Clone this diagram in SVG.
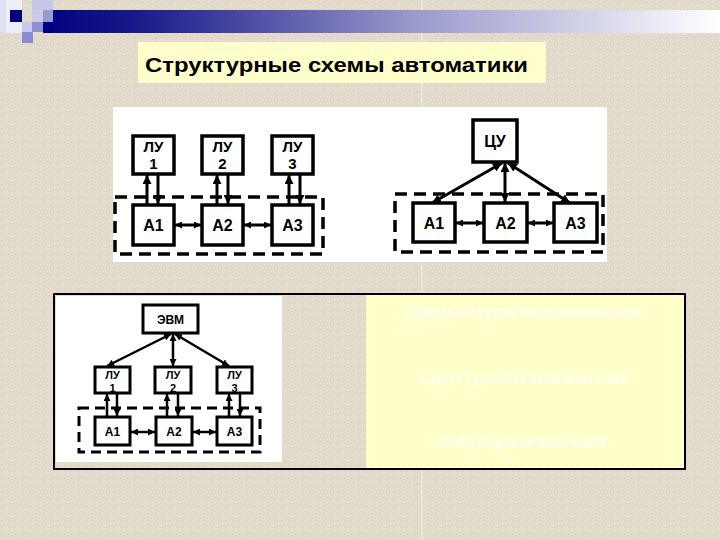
<svg xmlns="http://www.w3.org/2000/svg" width="720" height="540" viewBox="0 0 720 540">
<defs>
<linearGradient id="bar" x1="43" y1="0" x2="720" y2="0" gradientUnits="userSpaceOnUse">
<stop offset="0" stop-color="#000080"/>
<stop offset="0.15" stop-color="#1c1c8c"/>
<stop offset="0.55" stop-color="#9a9acc"/>
<stop offset="1" stop-color="#ffffff"/>
</linearGradient>
<pattern id="tex" width="7" height="7" patternUnits="userSpaceOnUse">
<rect width="7" height="7" fill="#e2dbcc"/>
<rect x="1" y="2" width="1" height="1" fill="#d4ccbc"/>
<rect x="5" y="5" width="1" height="1" fill="#ece6da"/>
<rect x="4" y="0" width="1" height="1" fill="#d8d0c0"/>
</pattern>
<marker id="ah" viewBox="0 0 10 10" refX="10" refY="5" markerWidth="9" markerHeight="9" markerUnits="userSpaceOnUse" orient="auto-start-reverse">
<path d="M0,0 L10,5 L0,10 z" fill="#000"/>
</marker>
<marker id="ahs" viewBox="0 0 10 10" refX="10" refY="5" markerWidth="7" markerHeight="7" markerUnits="userSpaceOnUse" orient="auto-start-reverse">
<path d="M0,0 L10,5 L0,10 z" fill="#000"/>
</marker>
</defs>
<style>
.box{fill:#fff;stroke:#000;stroke-width:3.5}
.boxs{fill:#fff;stroke:#000;stroke-width:3}
.dash{fill:none;stroke:#000;stroke-width:3.5;stroke-dasharray:12 7}
.dashs{fill:none;stroke:#000;stroke-width:3;stroke-dasharray:10 6}
.lbl{font-family:"Liberation Sans",Arial,sans-serif;font-weight:bold;font-size:16px;fill:#000;text-anchor:middle}
.lbl2{font-family:"Liberation Sans",Arial,sans-serif;font-weight:bold;font-size:15px;fill:#000;text-anchor:middle}
.lbls{font-family:"Liberation Sans",Arial,sans-serif;font-weight:bold;font-size:12px;fill:#000;text-anchor:middle}
.lbls2{font-family:"Liberation Sans",Arial,sans-serif;font-weight:bold;font-size:11px;fill:#000;text-anchor:middle}
.ar{stroke:#000;stroke-width:3;fill:none;marker-end:url(#ah)}
.ar2{stroke:#000;stroke-width:3;fill:none;marker-start:url(#ah);marker-end:url(#ah)}
.arh{stroke:#000;stroke-width:3;fill:none;marker-start:url(#ahs);marker-end:url(#ahs)}
.ars{stroke:#000;stroke-width:2.5;fill:none;marker-end:url(#ahs)}
.ars2{stroke:#000;stroke-width:2.5;fill:none;marker-start:url(#ahs);marker-end:url(#ahs)}
.yt{font-family:"Liberation Sans",Arial,sans-serif;font-size:19px;fill:#fffff2;text-anchor:middle}
</style>
<rect width="720" height="540" fill="url(#tex)"/>
<rect x="421" y="0" width="1.5" height="540" fill="#ede8dd"/>
<g id="header">
<rect x="0" y="0" width="22" height="33" fill="#eceef8"/>
<rect x="0" y="0" width="6" height="33" fill="#dde0f2"/>
<rect x="10" y="10" width="12" height="12" fill="#000080"/>
<rect x="32" y="0" width="21" height="10" fill="#c4c8e8"/>
<rect x="32" y="10" width="11" height="12" fill="#c8cce8"/>
<rect x="43" y="10" width="10" height="12" fill="#9a9ad0"/>
<rect x="22" y="22" width="10" height="10" fill="#c8c8f0"/>
<rect x="32" y="22" width="11" height="10" fill="#9090cc"/>
<rect x="22" y="32" width="11" height="11" fill="#8c8cd0"/>
<rect x="43" y="22" width="10" height="11" fill="#000080"/>
<rect x="53" y="10" width="667" height="23" fill="url(#bar)"/>
</g>
<g id="title">
<rect x="138" y="42" width="408" height="41" fill="#ffffcc"/>
<text x="145" y="72" font-family="Liberation Sans, Arial, sans-serif" font-weight="bold" font-size="20" fill="#000" textLength="383" lengthAdjust="spacingAndGlyphs">Структурные схемы автоматики</text>
</g>
<rect x="113" y="107" width="494" height="155" fill="#fff"/>
<g id="bottom-panel">
<rect x="54" y="294" width="631" height="175" fill="none" stroke="#000" stroke-width="2"/>
<rect x="56" y="296" width="226" height="166" fill="#fff"/>
<rect x="366" y="295" width="318" height="173" fill="#ffffcc"/>
<text class="yt" x="523" y="318" textLength="235" lengthAdjust="spacingAndGlyphs">Децентрализованная</text>
<text class="yt" x="523" y="384" textLength="208" lengthAdjust="spacingAndGlyphs">Централизованная</text>
<text class="yt" x="523" y="448" textLength="167" lengthAdjust="spacingAndGlyphs">Иерархическая</text>
</g>
<!-- Decentralized -->
<rect class="dash" x="115" y="197" width="208" height="57"/>
<g id="d-lu1"><rect class="box" x="133" y="136" width="41" height="38"/><text class="lbl2" x="153.5" y="152">ЛУ</text><text class="lbl2" x="153.5" y="169">1</text></g>
<g id="d-lu2"><rect class="box" x="202" y="136" width="41" height="38"/><text class="lbl2" x="222.5" y="152">ЛУ</text><text class="lbl2" x="222.5" y="169">2</text></g>
<g id="d-lu3"><rect class="box" x="272" y="136" width="41" height="38"/><text class="lbl2" x="292.5" y="152">ЛУ</text><text class="lbl2" x="292.5" y="169">3</text></g>
<g id="d-a1"><rect class="box" x="133" y="205" width="41" height="40"/><text class="lbl" x="153.5" y="231">А1</text></g>
<g id="d-a2"><rect class="box" x="202" y="205" width="41" height="40"/><text class="lbl" x="222.5" y="231">А2</text></g>
<g id="d-a3"><rect class="box" x="272" y="205" width="41" height="40"/><text class="lbl" x="292.5" y="231">А3</text></g>
<!-- Centralized -->
<rect class="dash" x="395" y="194" width="208" height="58"/>
<g id="c-cu"><rect class="box" x="473" y="120" width="44" height="42"/><text class="lbl" x="495" y="147">ЦУ</text></g>
<g id="c-a1"><rect class="box" x="413" y="203" width="42" height="39"/><text class="lbl" x="434" y="229">А1</text></g>
<g id="c-a2"><rect class="box" x="484" y="203" width="43" height="39"/><text class="lbl" x="505.5" y="229">А2</text></g>
<g id="c-a3"><rect class="box" x="554" y="203" width="43" height="39"/><text class="lbl" x="575.5" y="229">А3</text></g>
<!-- Hierarchical -->
<rect class="dashs" x="79" y="408" width="181" height="44"/>
<g id="h-evm"><rect class="boxs" x="143" y="305" width="55" height="28"/><text class="lbls" x="170.5" y="324">ЭВМ</text></g>
<g id="h-lu1"><rect class="boxs" x="95" y="367" width="35" height="26"/><text class="lbls2" x="112.5" y="379">ЛУ</text><text class="lbls2" x="112.5" y="391.5">1</text></g>
<g id="h-lu2"><rect class="boxs" x="155" y="367" width="36" height="26"/><text class="lbls2" x="173" y="379">ЛУ</text><text class="lbls2" x="173" y="391.5">2</text></g>
<g id="h-lu3"><rect class="boxs" x="217" y="367" width="35" height="26"/><text class="lbls2" x="234.5" y="379">ЛУ</text><text class="lbls2" x="234.5" y="391.5">3</text></g>
<g id="h-a1"><rect class="boxs" x="95" y="417" width="35" height="28"/><text class="lbls" x="112.5" y="436">А1</text></g>
<g id="h-a2"><rect class="boxs" x="156" y="417" width="36" height="28"/><text class="lbls" x="174" y="436">А2</text></g>
<g id="h-a3"><rect class="boxs" x="217" y="417" width="35" height="28"/><text class="lbls" x="234.5" y="436">А3</text></g>
<g id="connectors">
<line class="ar" x1="147" y1="205" x2="147" y2="175"/>
<line class="ar" x1="158" y1="175" x2="158" y2="204"/>
<line class="ar" x1="217" y1="205" x2="217" y2="175"/>
<line class="ar" x1="228" y1="175" x2="228" y2="204"/>
<line class="ar" x1="289" y1="205" x2="289" y2="175"/>
<line class="ar" x1="300" y1="175" x2="300" y2="204"/>
<line class="arh" x1="175" y1="225" x2="201" y2="225"/>
<line class="arh" x1="244" y1="225" x2="271" y2="225"/>
<line class="ar2" x1="502" y1="163" x2="432" y2="203"/>
<line class="ar2" x1="505" y1="163" x2="505" y2="202"/>
<line class="ar2" x1="508" y1="163" x2="570" y2="203"/>
<line class="arh" x1="456" y1="223" x2="483" y2="223"/>
<line class="arh" x1="528" y1="223" x2="553" y2="223"/>
<line class="ars2" x1="171" y1="334" x2="107" y2="366"/>
<line class="ars2" x1="173" y1="334" x2="173" y2="366"/>
<line class="ars2" x1="175" y1="334" x2="229" y2="366"/>
<line class="ars" x1="107" y1="417" x2="107" y2="394"/>
<line class="ars" x1="117" y1="394" x2="117" y2="416"/>
<line class="ars" x1="167" y1="417" x2="167" y2="394"/>
<line class="ars" x1="178" y1="394" x2="178" y2="416"/>
<line class="ars" x1="229" y1="417" x2="229" y2="394"/>
<line class="ars" x1="240" y1="394" x2="240" y2="416"/>
<line class="ars2" x1="131" y1="432" x2="155" y2="432"/>
<line class="ars2" x1="193" y1="432" x2="216" y2="432"/>
</g>
</svg>
